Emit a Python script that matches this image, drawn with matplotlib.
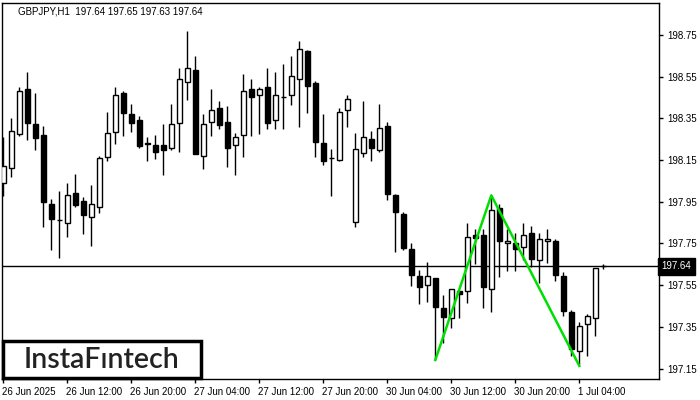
import numpy as np
import matplotlib.pyplot as plt
import matplotlib.transforms as mtrans

# GBPJPY H1 candles, 26 Jun 04:00 .. 1 Jul 07:00
opens = [198.039, 198.111, 198.277, 198.491, 198.323, 198.270, 197.939, 197.863, 197.850, 197.991,
         197.954, 197.879, 197.927, 198.166, 198.286, 198.470, 198.370, 198.341, 198.231, 198.222,
         198.222, 198.210, 198.329, 198.526, 198.582, 198.168, 198.331, 198.398, 198.331, 198.221,
         198.269, 198.490, 198.461, 198.499, 198.341, 198.451, 198.461, 198.538, 198.673, 198.520,
         198.231, 198.159, 198.149, 198.389, 197.852, 198.183, 198.250, 198.200, 198.314, 197.981,
         197.890, 197.722, 197.593, 197.550, 197.583, 197.439, 197.391, 197.521, 197.521, 197.789,
         197.789, 197.530, 197.919, 197.751, 197.751, 197.732, 197.799, 197.669, 197.761, 197.761,
         197.593, 197.420, 197.233, 197.363, 197.391, 197.640]
highs = [198.259, 198.350, 198.501, 198.573, 198.472, 198.314, 197.963, 198.002, 198.040, 198.083,
         197.974, 198.031, 198.170, 198.381, 198.501, 198.481, 198.419, 198.362, 198.259, 198.270,
         198.323, 198.419, 198.592, 198.769, 198.649, 198.371, 198.491, 198.433, 198.410, 198.279,
         198.563, 198.539, 198.501, 198.592, 198.573, 198.611, 198.649, 198.721, 198.678, 198.529,
         198.371, 198.203, 198.398, 198.462, 198.281, 198.433, 198.290, 198.419, 198.333, 197.985,
         197.900, 197.751, 197.622, 197.660, 197.586, 197.502, 197.532, 197.523, 197.847, 197.818,
         197.818, 197.981, 197.939, 197.818, 197.799, 197.847, 197.834, 197.802, 197.818, 197.770,
         197.612, 197.430, 197.372, 197.411, 197.631, 197.650]
lows = [197.979, 198.070, 198.267, 198.246, 198.198, 197.831, 197.719, 197.679, 197.780, 197.925,
        197.796, 197.739, 197.898, 198.146, 198.227, 198.266, 198.286, 198.210, 198.147, 198.157,
        198.079, 198.200, 198.190, 198.440, 198.178, 198.109, 198.267, 198.301, 198.118, 198.080,
        198.166, 198.267, 198.277, 198.301, 198.301, 198.301, 198.416, 198.310, 198.377, 198.166,
        198.128, 197.979, 198.146, 198.310, 197.831, 198.166, 198.147, 198.190, 197.960, 197.711,
        197.720, 197.548, 197.461, 197.471, 197.191, 197.271, 197.343, 197.391, 197.463, 197.650,
        197.439, 197.420, 197.591, 197.620, 197.620, 197.669, 197.639, 197.559, 197.658, 197.569,
        197.401, 197.209, 197.166, 197.209, 197.308, 197.630]
closes = [198.120, 198.288, 198.481, 198.329, 198.257, 197.951, 197.869, 197.863, 197.981, 197.935,
          197.887, 197.938, 198.159, 198.279, 198.461, 198.377, 198.329, 198.219, 198.229, 198.190,
          198.200, 198.322, 198.538, 198.590, 198.181, 198.322, 198.389, 198.320, 198.210, 198.259,
          198.480, 198.451, 198.490, 198.329, 198.461, 198.451, 198.552, 198.681, 198.507, 198.238,
          198.147, 198.159, 198.379, 198.442, 198.202, 198.259, 198.210, 198.303, 197.989, 197.900,
          197.730, 197.600, 197.540, 197.593, 197.447, 197.399, 197.530, 197.509, 197.780, 197.775,
          197.540, 197.909, 197.761, 197.761, 197.722, 197.789, 197.677, 197.770, 197.770, 197.600,
          197.428, 197.243, 197.353, 197.401, 197.631, 197.640]

price_ticks = [197.15, 197.35, 197.55, 197.75, 197.95, 198.15, 198.35, 198.55, 198.75]
time_labels = ["26 Jun 2025", "26 Jun 12:00", "26 Jun 20:00", "27 Jun 04:00", "27 Jun 12:00",
               "27 Jun 20:00", "30 Jun 04:00", "30 Jun 12:00", "30 Jun 20:00", "1 Jul 04:00"]
last_price = 197.64

# double bottom pattern: bar index / price
pattern_x = [54, 61, 72]
pattern_y = [197.191, 197.981, 197.163]

plt.rcParams['font.family'] = ['Liberation Sans', 'DejaVu Sans']

o = np.array(opens)
h = np.array(highs)
l = np.array(lows)
c = np.array(closes)
x = np.arange(len(o))

fig = plt.figure(figsize=(7, 4), dpi=100)
ax = fig.add_axes([2 / 700, 21 / 400, 657 / 700, 376 / 400])

ax.vlines(x, l, h, color="black", linewidth=1, zorder=2)
up = c >= o
bottom = np.minimum(o, c)
height = np.maximum(np.abs(c - o), 0.0005)
ax.bar(x, height, bottom=bottom, width=0.6, color=np.where(up, "white", "black"),
       edgecolor="black", linewidth=1, zorder=3)

ax.axhline(last_price, color="black", linewidth=1, zorder=1)
ax.plot(pattern_x, pattern_y, color="#00e000", linewidth=1.8, zorder=4)

ax.set_xlim(-0.16, 81.96)
ax.set_ylim(197.100, 198.9035)

ax.yaxis.tick_right()
ax.set_yticks(price_ticks)
ax.set_yticklabels([f"{p:.2f}" for p in price_ticks], fontsize=7)
ax.tick_params(axis="y", direction="out", length=3, width=1, pad=3)

ax.set_xticks(np.arange(0, 80, 8))
ax.set_xticklabels(time_labels, fontsize=7, ha="left")
ax.tick_params(axis="x", direction="out", length=3, width=1, pad=3)
offset = mtrans.ScaledTranslation(-1 / 100, 0, fig.dpi_scale_trans)
for lab in ax.get_xticklabels():
    lab.set_transform(lab.get_transform() + offset)

for s in ax.spines.values():
    s.set_linewidth(1)
    s.set_color("black")

ax.text(0.024, 0.99, "GBPJPY,H1  197.64 197.65 197.63 197.64", transform=ax.transAxes,
        fontsize=7, va="top", ha="left", color="black")

# current price tag
ax.text(1.004, last_price, f"{last_price:.2f}", transform=ax.get_yaxis_transform(),
        fontsize=7, color="white", va="center", ha="left",
        bbox=dict(boxstyle="square,pad=0.35", facecolor="black", edgecolor="black"))

# logo box
fig.patches.append(plt.Rectangle((3 / 700, 22 / 400), 198 / 700, 37 / 400,
                                 transform=fig.transFigure, facecolor="white",
                                 edgecolor="black", linewidth=2.5, zorder=5))
fig.text(102 / 700, 40 / 400, "InstaF\u0131ntech", fontsize=20.5, color="#222222",
         ha="center", va="center", family="Lato", fontweight="semibold", zorder=6)

fig.savefig("out.png", dpi=100)
